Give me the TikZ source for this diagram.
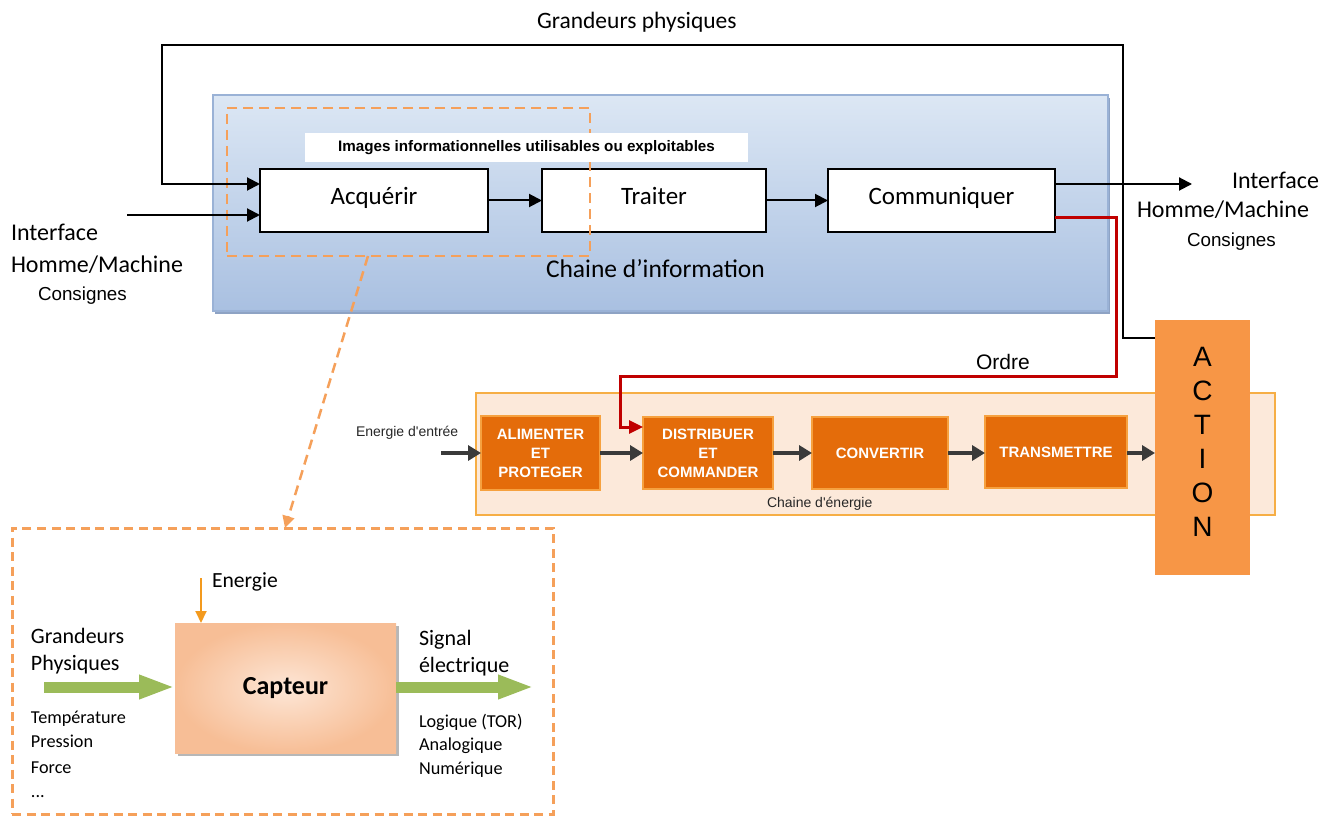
\documentclass[tikz,border=0pt]{standalone}
\usepackage{fontspec}
\setmainfont{Carlito}
\newfontfamily\arialf{Liberation Sans}
\usetikzlibrary{arrows.meta,fit,shadows,calc}
\definecolor{infoTop}{HTML}{DCE7F4}
\definecolor{infoBot}{HTML}{A9C0E1}
\definecolor{infoEdge}{HTML}{9AB2D6}
\definecolor{infoShadow}{HTML}{8EA3C4}
\definecolor{dashOr}{HTML}{F5A05A}
\definecolor{chainFill}{HTML}{FCE9DA}
\definecolor{chainDraw}{HTML}{F6AE45}
\definecolor{eboxFill}{HTML}{E46C0A}
\definecolor{eboxDraw}{HTML}{F6A13F}
\definecolor{actionOr}{HTML}{F79646}
\definecolor{redL}{HTML}{C00000}
\definecolor{greenA}{HTML}{9BBB59}
\definecolor{darkA}{HTML}{3A3A3A}
\definecolor{enOr}{HTML}{F39A1E}
\definecolor{capOut}{HTML}{F7BE96}
\definecolor{capIn}{HTML}{FDE6D6}
\newcommand\fsz[2]{\fontsize{#1}{#2}\selectfont}
\begin{document}
\begin{tikzpicture}[x=0.5pt,y=-0.5pt,
  every node/.style={inner sep=0pt,outer sep=0pt},
  every label/.style={inner sep=0pt,outer sep=0pt},
  wbox/.style={draw=black,line width=1pt,fill=white},
  wtxt/.style={font=\fsz{12.5pt}{15pt},text height=8pt,text depth=3.5pt},
  dashbox/.style={draw=dashOr,line width=1.25pt,dash pattern=on 5pt off 3pt},
  ebox/.style={draw=eboxDraw,fill=eboxFill,line width=1pt},
  etxt/.style={text=white,align=center,font=\arialf\bfseries\fsz{7.5pt}{9.5pt}},
  blk/.style={draw=black,line width=1pt,-{Triangle[length=6.5pt,width=6.5pt]}},
  darr/.style={draw=darkA,line width=1.7pt,-{Triangle[length=6.5pt,width=7.5pt]}},
  redarr/.style={draw=redL,line width=1.5pt,-{Triangle[length=7pt,width=6.5pt]}},
  garr/.style={draw=greenA,line width=5.5pt,-{Triangle[length=18pt,width=11pt]}},
  orarr/.style={draw=enOr,line width=1pt,-{Triangle[length=6pt,width=5.5pt]}},
  dsharr/.style={draw=dashOr,line width=1.25pt,dash pattern=on 5pt off 3pt,-{Triangle[length=6pt,width=6pt]}},
  lbl/.style={anchor=base west},
  big/.style={font=\fsz{12pt}{14pt}},
  sml/.style={font=\arialf\fsz{9.4pt}{11pt}},
]
\useasboundingbox (0,0) rectangle (1332,818);

% ---------- information chain ----------
\node[fit={(213,95) (1108,311)}, top color=infoTop, bottom color=infoBot, draw=infoEdge, line width=0.6pt,
      drop shadow={shadow xshift=1pt,shadow yshift=-1.5pt,fill=infoShadow,opacity=1}] (info) {};
\node[fit={(260,169) (488,232)}, wbox, label={[wtxt]center:Acquérir}] (acq) {};
\node[fit={(542,169) (766,232)}, wbox, label={[wtxt]center:Traiter}] (trait) {};
\node[fit={(828,169) (1055,232)}, wbox, label={[wtxt]center:Communiquer}] (comm) {};
\node[fit={(227,108) (590,256)}, dashbox] (zone) {};
\node[fit={(305,133) (748,162)}, fill=white,
      label={[font=\arialf\bfseries\fsz{7.6pt}{9pt}]center:Images informationnelles utilisables ou exploitables}] (imgs) {};
\node[lbl, font=\fsz{12.75pt}{15pt}] (chinfo) at (546,278) {Chaine d’information};

\node[lbl, font=\fsz{11.75pt}{14pt}] (gp) at (537,29) {Grandeurs physiques};

\node[lbl, big] (ifL) at (11,241) {Interface};
\node[lbl, big] (hmL) at (11,272) {Homme/Machine};
\node[lbl, sml] (csL) at (38,300) {Consignes};

\node[lbl, big] (ifR) at (1232,189) {Interface};
\node[lbl, big] (hmR) at (1137,218) {Homme/Machine};
\node[lbl, sml] (csR) at (1187,247) {Consignes};

% ---------- energy chain ----------
\node[fit={(476,393) (1275,515)}, fill=chainFill, draw=chainDraw, line width=1pt] (chain) {};
\node[fit={(481,416) (600,490)}, ebox, label={[etxt]center:{ALIMENTER\\ET\\PROTEGER}}] (alim) {};
\node[fit={(643,417) (773,489)}, ebox, label={[etxt]center:{DISTRIBUER\\ET\\COMMANDER}}] (distr) {};
\node[fit={(812,417) (948,489)}, ebox, label={[etxt]center:CONVERTIR}] (conv) {};
\node[fit={(985,416) (1127,488)}, ebox, label={[etxt]center:TRANSMETTRE}] (trans) {};
\node[fit={(1155,320) (1250,575)}, fill=actionOr,
      label={[align=center,font=\arialf\fsz{14pt}{17pt},yshift=2.75pt]center:{A\\C\\T\\I\\O\\N}}] (action) {};
\node[lbl, font=\arialf\fsz{7pt}{8pt}, text=black!85] (chen) at (767,507) {Chaine d'énergie};
\node[lbl, font=\arialf\fsz{7pt}{8pt}, text=black!85] (ein) at (356,436) {Energie d'entrée};
\node[lbl, font=\arialf\fsz{10.5pt}{12pt}] (ordre) at (976,369) {Ordre};

% ---------- connectors (top) ----------
\draw[blk] ([yshift=-9pt]action.north west) -| (1123,45) -| (162,184) -- ([yshift=8.25pt]acq.west);
\coordinate (hmiL) at (127,215);
\draw[blk] (hmiL) -- (hmiL -| acq.west);
\draw[blk] (acq.east) -- (acq.east -| trait.west);
\draw[blk] (trait.east) -- (trait.east -| comm.west);
\coordinate (hmiR) at (1192,184);
\draw[blk] (hmiR -| comm.east) -- (hmiR);
\draw[redarr] ([yshift=-8.75pt]comm.east) -| (1116,376) -| (620,427) -- ([yshift=13pt]distr.west);

% ---------- connectors (energy) ----------
\coordinate (einP) at (441,453);
\draw[darr] (einP) -- (einP -| alim.west);
\draw[darr] (einP -| alim.east) -- (einP -| distr.west);
\draw[darr] (einP -| distr.east) -- (einP -| conv.west);
\draw[darr] (einP -| conv.east) -- (einP -| trans.west);
\draw[darr] (einP -| trans.east) -- (einP -| action.west);

% ---------- sensor detail ----------
\node[fit={(12,528) (553,814)}, draw=dashOr, line width=1.5pt, dash pattern=on 4.5pt off 2.75pt] (capzone) {};
\draw[dsharr] ([xshift=-20.25pt]zone.south) -- ([xshift=1.25pt]capzone.north);

\node[fit={(175,623) (396,753)}, inner color=capIn, outer color=capOut,
      drop shadow={shadow xshift=1.5pt,shadow yshift=-1.5pt,fill=black!40,opacity=0.7},
      label={[font=\bfseries\fsz{13pt}{15pt}]center:Capteur}] (capt) {};
\coordinate (enTop) at (201,578);
\draw[orarr] (enTop) -- (enTop |- capt.north);
\node[lbl, font=\fsz{10.8pt}{13pt}] (energie) at (212,587) {Energie};

\coordinate (gIn) at (44,687);
\draw[garr] (gIn) -- (gIn -| capt.west);
\coordinate (gOut) at (534,687);
\draw[garr] (gOut -| capt.east) -- (gOut);

\node[lbl, font=\fsz{11pt}{13pt}] (gr1) at (31,643) {Grandeurs};
\node[lbl, font=\fsz{11pt}{13pt}] (gr2) at (31,670) {Physiques};
\node[lbl, font=\fsz{9.1pt}{11pt}] (t1) at (31,723) {Température};
\node[lbl, font=\fsz{9.1pt}{11pt}] (t2) at (31,747) {Pression};
\node[lbl, font=\fsz{9.1pt}{11pt}] (t3) at (31,773) {Force};
\node[lbl, font=\fsz{9.1pt}{11pt}] (t4) at (31,797) {...};

\node[lbl, font=\fsz{11pt}{13pt}] (s1) at (419,645) {Signal};
\node[lbl, font=\fsz{11pt}{13pt}] (s2) at (419,672) {électrique};
\node[lbl, font=\fsz{9.1pt}{11pt}] (l1) at (419,727) {Logique (TOR)};
\node[lbl, font=\fsz{9.1pt}{11pt}] (l2) at (419,750) {Analogique};
\node[lbl, font=\fsz{9.1pt}{11pt}] (l3) at (419,774) {Numérique};
\end{tikzpicture}
\end{document}
